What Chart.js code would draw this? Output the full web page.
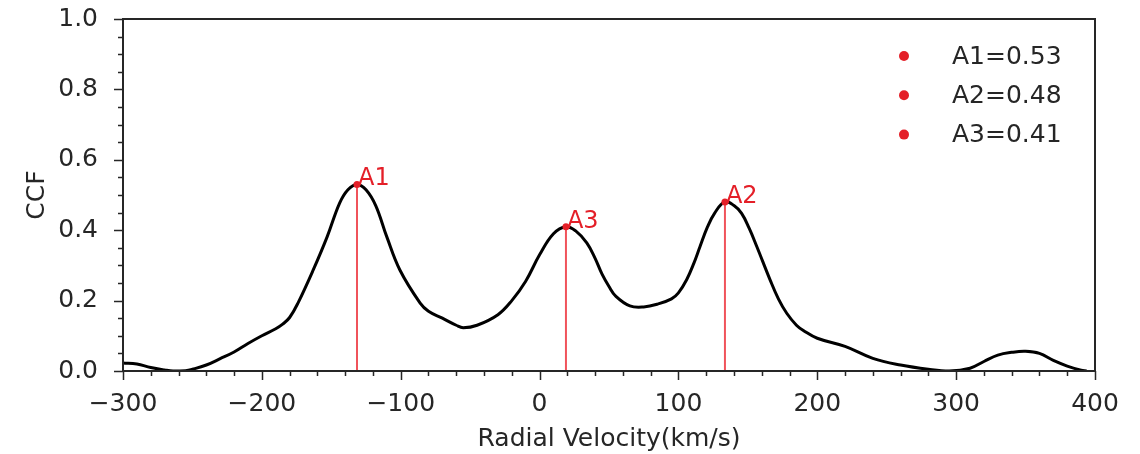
<!DOCTYPE html>
<html>
<head>
<meta charset="utf-8">
<script src="https://cdn.jsdelivr.net/npm/chart.js@4/dist/chart.umd.min.js"></script>
<style>
  html, body { margin: 0; padding: 0; background: #fff; }
  #wrap { width: 1140px; height: 454px; position: relative; }
</style>
</head>
<body>
<div id="wrap"><canvas id="ccf"></canvas></div>
<script>
// ── DATA ──────────────────────────────────────────────
const velocity = [
  -300, -290, -280, -270, -264, -255, -250, -240, -230, -220, -210, -200,
  -190, -185, -180, -174, -163, -153, -144, -138, -131.5, -125, -118, -110, -100.6,
  -86, -80, -70, -60, -55, -45, -30, -20, -10, 0, 10, 19, 26, 34, 40, 45, 50, 55,
  65, 75, 85, 95, 100, 106, 111, 115.5, 121, 126, 133.5, 140, 145.5, 151, 156.5, 166, 172, 178, 185, 190,
  200, 220, 240, 260, 280, 295, 310, 320, 330, 340, 350, 360, 370, 380, 390, 394
];
const ccf = [
  0.023, 0.020, 0.010, 0.003, 0.000, 0.001, 0.005, 0.017, 0.035, 0.054, 0.078, 0.100,
  0.120, 0.133, 0.152, 0.193, 0.287, 0.381, 0.477, 0.515, 0.530, 0.515, 0.470, 0.381, 0.287,
  0.193, 0.170, 0.150, 0.130, 0.123, 0.130, 0.160, 0.200, 0.255, 0.330, 0.390, 0.410, 0.398, 0.364, 0.320, 0.275, 0.240, 0.212,
  0.185, 0.182, 0.190, 0.205, 0.222, 0.260, 0.305, 0.353, 0.410, 0.448, 0.481, 0.470, 0.448, 0.405, 0.353, 0.259, 0.205, 0.164, 0.130, 0.115,
  0.093, 0.070, 0.036, 0.017, 0.005, 0.000, 0.008, 0.027, 0.045, 0.053, 0.056, 0.050, 0.030, 0.014, 0.002, 0.000
];

const peakNames  = ["A1", "A2", "A3"];
const peakVel    = [-131.5, 133.5, 19];
const peakValues = [0.53, 0.48, 0.41];

const xTicks = [-300, -200, -100, 0, 100, 200, 300, 400];
const yTicks = [0.0, 0.2, 0.4, 0.6, 0.8, 1.0];

// ── STYLE ─────────────────────────────────────────────
const INK  = "#262626";
const RED  = "#e41f28";
const FONT = "'DejaVu Sans', sans-serif";

const stems = peakNames.map((name, i) => ({
  label: name,
  data: [{ x: peakVel[i], y: 0 }, { x: peakVel[i], y: peakValues[i] }],
  borderColor: "rgba(236,40,50,0.8)",
  borderWidth: 2,
  pointRadius: 0,
  order: 2
}));

// frame, tick marks, peak labels and the legend box
const decorations = {
  id: "decorations",
  afterDatasetsDraw(chart) {
    const { ctx, chartArea: a, scales: { x, y } } = chart;
    ctx.save();

    // tick marks (major + minor), matplotlib style
    ctx.strokeStyle = INK;
    ctx.lineWidth = 1.5;
    ctx.beginPath();
    for (let v = -300; v <= 400; v += 20) {
      const px = Math.round(x.getPixelForValue(v)) + 0.5;
      const len = v % 100 === 0 ? 9 : 5;
      ctx.moveTo(px, a.bottom);
      ctx.lineTo(px, a.bottom + len);
    }
    for (let k = 0; k <= 20; k++) {
      const py = Math.round(y.getPixelForValue(k * 0.05)) + 0.5;
      const len = k % 4 === 0 ? 9 : 5;
      ctx.moveTo(a.left, py);
      ctx.lineTo(a.left - len, py);
    }
    ctx.stroke();

    // axes box
    ctx.lineWidth = 2;
    ctx.strokeRect(a.left, a.top, a.right - a.left, a.bottom - a.top);

    // peak labels
    ctx.fillStyle = RED;
    ctx.font = "24px " + FONT;
    ctx.textAlign = "left";
    ctx.textBaseline = "alphabetic";
    peakNames.forEach((name, i) => {
      ctx.fillText(name, x.getPixelForValue(peakVel[i]) + 1, y.getPixelForValue(peakValues[i]) + 1);
    });

    // legend
    ctx.font = "25px " + FONT;
    ctx.textBaseline = "middle";
    peakNames.forEach((name, i) => {
      const cy = 56 + i * 39.3;
      ctx.fillStyle = RED;
      ctx.beginPath();
      ctx.arc(904, cy, 5, 0, Math.PI * 2);
      ctx.fill();
      ctx.fillStyle = INK;
      ctx.fillText(`${name}=${peakValues[i].toFixed(2)}`, 952, cy + 1);
    });

    ctx.restore();
  }
};

const config = {
  type: "line",
  data: {
    datasets: [
      {
        label: "CCF",
        data: velocity.map((v, i) => ({ x: v, y: ccf[i] })),
        borderColor: "#000",
        borderWidth: 3,
        pointRadius: 0,
        tension: 0.4,
        order: 1
      },
      ...stems,
      {
        label: "peaks",
        data: peakVel.map((v, i) => ({ x: v, y: peakValues[i] })),
        showLine: false,
        pointRadius: 3.5,
        pointBackgroundColor: RED,
        pointBorderWidth: 0,
        order: 0
      }
    ]
  },
  options: {
    responsive: false,
    animation: false,
    layout: { padding: { top: 19, right: 45, left: 0, bottom: 0 } },
    plugins: { legend: { display: false }, tooltip: { enabled: false } },
    scales: {
      x: {
        type: "linear",
        min: -300,
        max: 400,
        afterBuildTicks: s => { s.ticks = xTicks.map(value => ({ value })); },
        grid: { display: false },
        border: { display: false },
        ticks: {
          color: INK,
          font: { family: FONT, size: 25 },
          padding: 10,
          maxRotation: 0,
          callback: v => (v < 0 ? "\u2212" + Math.abs(v) : String(v))
        },
        title: {
          display: true,
          text: "Radial Velocity(km/s)",
          color: INK,
          font: { family: FONT, size: 25 },
          padding: { top: 2, bottom: 0 }
        },
        afterFit: s => { s.height = 83; s.paddingLeft = 0; s.paddingRight = 0; }
      },
      y: {
        min: 0,
        max: 1,
        afterBuildTicks: s => { s.ticks = yTicks.map(value => ({ value })); },
        grid: { display: false },
        border: { display: false },
        ticks: {
          color: INK,
          font: { family: FONT, size: 25 },
          padding: 17,
          callback: v => v.toFixed(1)
        },
        title: {
          display: true,
          text: "CCF",
          color: INK,
          font: { family: FONT, size: 25 },
          padding: { top: 22, bottom: 0 }
        },
        afterFit: s => { s.width = 123; s.paddingTop = 0; s.paddingBottom = 0; }
      }
    }
  },
  plugins: [decorations]
};

const canvas = document.getElementById("ccf");
canvas.width = 1140;
canvas.height = 454;
new Chart(canvas.getContext("2d"), config);
</script>
</body>
</html>
